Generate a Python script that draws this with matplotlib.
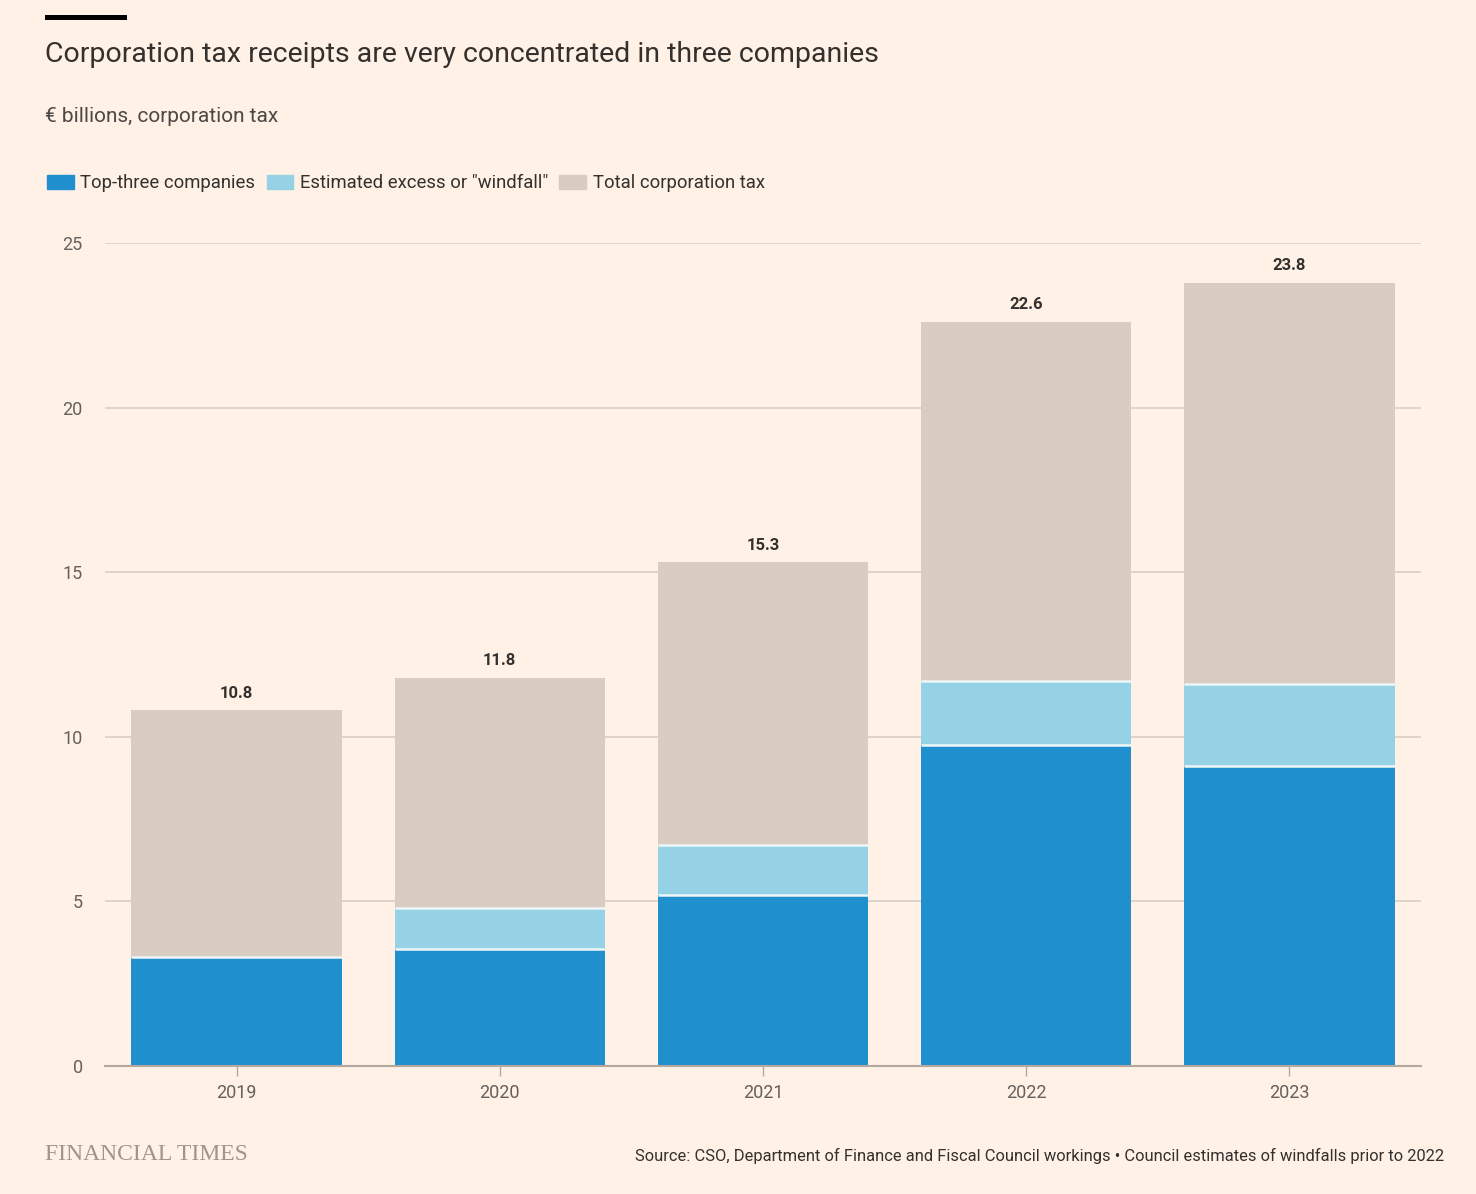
import matplotlib
matplotlib.use("Agg")
import matplotlib.pyplot as plt
from matplotlib.patches import Rectangle, Patch
import numpy as np

years = ["2019", "2020", "2021", "2022", "2023"]
top_three = [3.3, 3.55, 5.2, 9.75, 9.1]
windfall = [0.0, 1.25, 1.5, 1.95, 2.5]
total = [10.8, 11.8, 15.3, 22.6, 23.8]
yticks = [0, 5, 10, 15, 20, 25]

BG = "#FFF1E5"
C_TOP = "#208FCE"
C_WIND = "#96D2E6"
C_TOT = "#D9CCC2"
GRID = "#D8CFC6"
TXT = "#33302E"
TICK = "#66605C"

plt.rcParams["font.family"] = ["Roboto", "DejaVu Sans"]

fig = plt.figure(figsize=(14.76, 11.94), dpi=100, facecolor=BG)
ax = fig.add_axes([105/1476, 1-1066/1194, (1421-105)/1476, (1066-243)/1194])
ax.set_facecolor(BG)

x = np.arange(len(years))
w = 0.8
tt = np.array(top_three)
wf = np.array(windfall)
tot = np.array(total)
rest = tot - tt - wf

ax.bar(x, tt, width=w, color=C_TOP, zorder=3, label="Top-three companies")
ax.bar(x, wf, width=w, bottom=tt, color=C_WIND, zorder=3, label='Estimated excess or "windfall"')
ax.bar(x, rest, width=w, bottom=tt + wf, color=C_TOT, zorder=3, label="Total corporation tax")

# separators
for i in range(len(x)):
    ax.hlines(tt[i], x[i] - w/2, x[i] + w/2, color="#EEF6F8", lw=1.8, zorder=4)
    if wf[i] > 0:
        ax.hlines(tt[i] + wf[i], x[i] - w/2, x[i] + w/2, color="#EEF6F8", lw=1.8, zorder=4)

for i in range(len(x)):
    ax.annotate(f"{tot[i]:.1f}", (x[i], tot[i]), xytext=(0, 7), textcoords="offset points",
                ha="center", va="bottom", fontsize=12, fontweight="bold", color=TXT, zorder=5)

ax.set_xlim(-0.5, len(years) - 0.5)
ax.set_ylim(0, 25)
ax.set_yticks(yticks)
ax.set_yticklabels([str(v) for v in yticks])
ax.yaxis.grid(True, color=GRID, lw=1.2, zorder=0)
ax.set_axisbelow(True)
ax.set_xticks(x)
ax.set_xticklabels(years)
for s in ["top", "right", "left"]:
    ax.spines[s].set_visible(False)
ax.spines["bottom"].set_color("#B3A9A0")
ax.spines["bottom"].set_linewidth(1.5)
ax.spines["bottom"].set_zorder(6)
ax.tick_params(axis="y", length=0, pad=16, labelsize=13, labelcolor=TICK)
ax.tick_params(axis="x", length=7, width=1, color="#B3A9A0", pad=6, labelsize=13, labelcolor=TICK)
for lbl in ax.get_yticklabels():
    lbl.set_horizontalalignment("right")

# top black bar
fig.add_artist(Rectangle((45/1476, 1-20/1194), 82/1476, 5/1194, transform=fig.transFigure,
                         color="black", lw=0))

fig.text(45/1476, 1-54/1194, "Corporation tax receipts are very concentrated in three companies",
         fontsize=20.5, color=TXT, ha="left", va="center")
fig.text(45/1476, 1-117/1194, "€ billions, corporation tax",
         fontsize=15, color="#4D4845", ha="left", va="center")

handles = [Patch(color=C_TOP), Patch(color=C_WIND), Patch(color=C_TOT)]
labels = ["Top-three companies", 'Estimated excess or "windfall"', "Total corporation tax"]
fig.legend(handles, labels, loc="center left", bbox_to_anchor=(38/1476, 1-183/1194), ncol=3,
           frameon=False, fontsize=13.3, handlelength=1.45, handleheight=0.8, handletextpad=0.35,
           columnspacing=0.6, labelcolor=TXT, borderpad=0)

fig.text(45/1476, 1-1154/1194, "FINANCIAL TIMES", family=["Liberation Serif", "DejaVu Serif"],
         fontsize=17, color="#9E958D", ha="left", va="center")
fig.text(1444/1476, 1-1156/1194,
         "Source: CSO, Department of Finance and Fiscal Council workings • Council estimates of windfalls prior to 2022",
         fontsize=11.9, color=TXT, ha="right", va="center")

fig.savefig("out.png", dpi=100, facecolor=BG)
